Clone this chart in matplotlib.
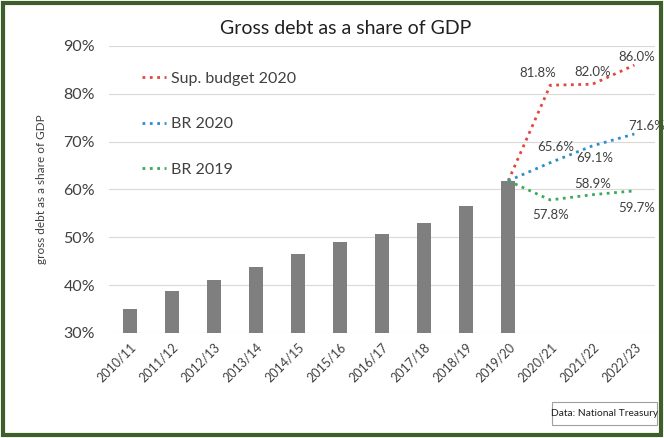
import numpy as np
import matplotlib.pyplot as plt
from matplotlib.patches import Rectangle

plt.rcParams['font.family'] = ['Lato', 'DejaVu Sans']

years = ["2010/11", "2011/12", "2012/13", "2013/14", "2014/15", "2015/16", "2016/17",
         "2017/18", "2018/19", "2019/20", "2020/21", "2021/22", "2022/23"]
debt_actual = [35.0, 38.8, 41.1, 43.8, 46.5, 49.0, 50.7, 53.0, 56.6, 61.8]

# projections start from the 2019/20 outcome
proj_years = ["2019/20", "2020/21", "2021/22", "2022/23"]
sup_budget_2020 = [61.8, 81.8, 82.0, 86.0]
br_2020 = [61.8, 65.6, 69.1, 71.6]
br_2019 = [61.8, 57.8, 58.9, 59.7]

text_col = "#404040"

fig = plt.figure(figsize=(6.64, 4.38), dpi=100)
ax = fig.add_axes([0.164, 0.240, 0.823, 0.655])

x = np.arange(len(years))
ax.bar(x[:len(debt_actual)], debt_actual, width=0.33, color="#7f7f7f", zorder=2)

px = [years.index(y) for y in proj_years]
ax.plot(px, sup_budget_2020, ls=":", lw=2, color="#e0473f", label="Sup. budget 2020", zorder=3)
ax.plot(px, br_2020, ls=":", lw=2, color="#2f8fcb", label="BR 2020", zorder=3)
ax.plot(px, br_2019, ls=":", lw=2, color="#3aaa5c", label="BR 2019", zorder=3)

# value labels on projected points
def label(series, offsets):
    for xi, v, (dx, dy) in zip(px[1:], series[1:], offsets):
        ax.annotate(f"{v:.1f}%", (xi, v), xytext=(dx, dy), textcoords="offset points",
                    ha="center", va="center", fontsize=9.5, color=text_col)

label(sup_budget_2020, [(-9, 9), (0, 9), (2, 6)])
label(br_2020, [(4, 11), (2, -9), (9, 6)])
label(br_2019, [(0, -11), (0, 8), (1.5, -12)])

ax.set_xlim(-0.5, 12.5)
ax.set_ylim(30, 90)
ax.set_yticks(np.arange(30, 91, 10))
ax.set_yticklabels([f"{v}%" for v in range(30, 91, 10)], fontsize=11.5, color=text_col)
ax.set_xticks(x)
ax.set_xticklabels(years, rotation=45, ha="right", rotation_mode="anchor",
                   fontsize=9, color=text_col)
ax.tick_params(length=0, pad=6)
ax.tick_params(axis="y", pad=10)
ax.grid(axis="y", color="#d9d9d9", lw=0.8, zorder=0)
ax.set_axisbelow(True)
for s in ax.spines.values():
    s.set_visible(False)

ax.set_ylabel("gross debt as a share of GDP", fontsize=8.5, color=text_col, labelpad=12)
fig.text(0.52, 0.935, "Gross debt as a share of GDP", ha="center", va="center",
         fontsize=14, color="#202020")

ax.legend(loc="upper left", bbox_to_anchor=(0.035, 0.96), frameon=False, fontsize=11.5,
          handlelength=1.5, handletextpad=0.3, labelspacing=1.95, labelcolor=text_col)

# source note in its own box
fig.patches.append(Rectangle((0.831, 0.030), 0.158, 0.053, transform=fig.transFigure,
                             fc="white", ec="#a0a0a0", lw=0.8))
fig.text(0.910, 0.0565, "Data: National Treasury", ha="center", va="center", fontsize=7.4,
         color="#202020")

# outer frame
fig.patches.append(Rectangle((0.004, 0.006), 0.992, 0.988, transform=fig.transFigure,
                             fill=False, ec="#3f5f2a", lw=3))

fig.savefig("out.png", dpi=100)
